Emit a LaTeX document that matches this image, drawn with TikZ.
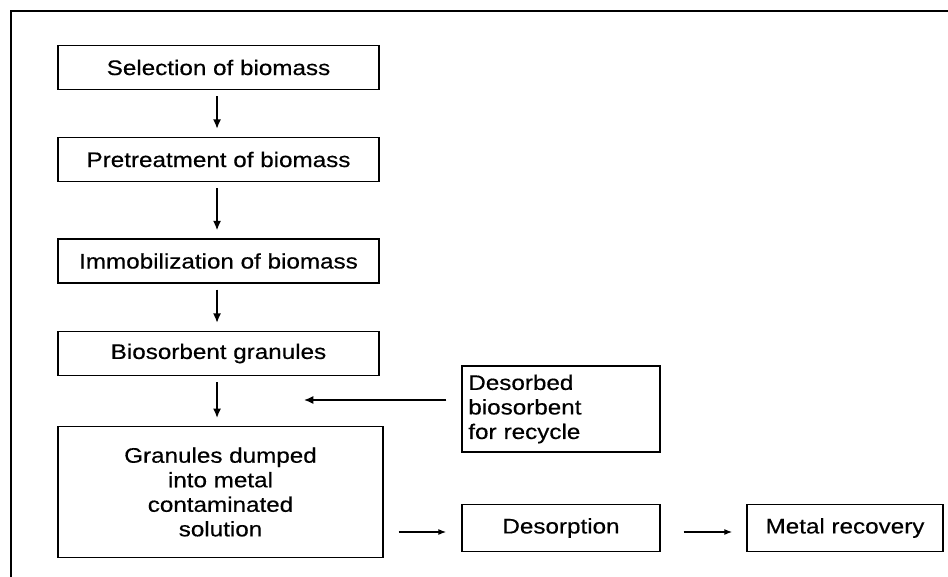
\documentclass[tikz,border=0pt]{standalone}
\usepackage{fontspec}
\setmainfont[FakeStretch=1.15, FakeBold=0.4]{Liberation Sans}
\usepackage{tikz}
\usetikzlibrary{arrows.meta, positioning, calc}
\tikzset{
  stagebox/.style={
    draw, line width=1.1pt, align=center, fill=white,
    font=\fontsize{15.8}{18.4}\selectfont,
    minimum width=240.75pt, minimum height=33pt, inner sep=2pt
  },
  flowarrow/.style={
    -{Latex[length=7pt, width=6pt]}, line width=1.1pt
  },
  sidearrow/.style={
    -{Latex[length=6pt, width=4.5pt]}, line width=0.9pt
  },
}

\begin{document}
\begin{tikzpicture}[
  x=0.75pt, y=-0.75pt,
  sidebox/.style={stagebox, minimum width=148.5pt, minimum height=35.25pt},
]
  \useasboundingbox (0,0) rectangle (948,577);

  % Frame (left and top edges)
  \draw[line width=1.1pt] (11,577) -- (11,11) -- (948,11);

  % Main column
  \node[stagebox] (select) at (218.5,67.5) {Selection of biomass};
  \node[stagebox] (pretreat) at (218.5,159.5) {Pretreatment of biomass};
  \node[stagebox] (immob) at (218.5,261) {Immobilization of biomass};
  \node[stagebox] (granules) at (218.5,353.5) {Biosorbent granules};
  \node[stagebox, minimum width=243.75pt, minimum height=98pt] (dumped)
    at (220.5,492) {Granules dumped\\into metal\\contaminated\\solution};

  % Recycle and recovery branch
  \node[sidebox, minimum height=64.5pt, text width=139pt, align=left,
    inner xsep=4.75pt] (recycle) at (561,409)
    {Desorbed\\biosorbent\\for recycle};
  \node[sidebox] (desorp) at (561,528) {Desorption};
  \node[sidebox, minimum width=147pt] (recovery) at (845,528) {Metal recovery};
  \coordinate (merge) at (304,400);

  % Arrows
  \foreach \a/\b in {select/pretreat, pretreat/immob, immob/granules, granules/dumped}
    \draw[flowarrow, shorten <=4.5pt, shorten >=6pt]
      ([xshift=-1.1pt]\a.south) -- ([xshift=-1.1pt]\a.south |- \b.north);
  \draw[flowarrow, shorten <=11.25pt] (recycle.west |- merge) -- (merge);
  \draw[sidearrow, shorten <=11.25pt, shorten >=11.25pt]
    ([yshift=-3pt]dumped.east |- desorp.west) -- ([yshift=-3pt]desorp.west);
  \draw[sidearrow, shorten <=17.25pt, shorten >=10.5pt]
    ([yshift=-3pt]desorp.east) -- ([yshift=-3pt]recovery.west);
\end{tikzpicture}
\end{document}
